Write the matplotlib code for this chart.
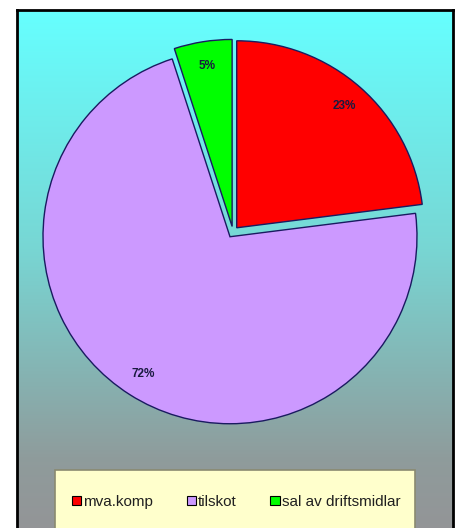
import numpy as np
import matplotlib
matplotlib.use("Agg")
import matplotlib.pyplot as plt
from matplotlib.patches import Rectangle, Patch
from matplotlib.colors import LinearSegmentedColormap

categories = ["mva.komp", "tilskot", "sal av driftsmidlar"]
values = [23, 72, 5]
colors = ["#FF0000", "#CC99FF", "#00FF00"]

W, H = 460, 528
fig = plt.figure(figsize=(W / 100, H / 100), dpi=100)
fig.patch.set_facecolor("white")

def fx(px):
    return px / W

def fy(py):
    return 1 - py / H

# background gradient panel
left, right, top = 17, 453, 10
bg = fig.add_axes([fx(left), -0.02, fx(right - left), fy(top) + 0.02])
grad = np.linspace(0, 1, 256).reshape(-1, 1)
cmap = LinearSegmentedColormap.from_list(
    "bg", [(0.0, (0.40, 1.0, 1.0)), (0.45, (0.47, 0.84, 0.83)),
           (0.85, (0.56, 0.61, 0.61)), (1.0, (0.58, 0.58, 0.59))])
bg.imshow(grad, aspect="auto", cmap=cmap, extent=[0, 1, 0, 1], origin="upper")
bg.set_xlim(0, 1)
bg.set_ylim(0, 1)
bg.set_xticks([])
bg.set_yticks([])
for s in bg.spines.values():
    s.set_linewidth(2)
    s.set_color("black")

# pie
cx, cy, R = 233, 232, 187
lim = 1.1
ax = fig.add_axes([fx(cx - R * lim), fy(cy + R * lim), fx(2 * R * lim), (2 * R * lim) / H])
ax.set_facecolor("none")
wedges, texts, autotexts = ax.pie(
    values, colors=colors, startangle=90, counterclock=False,
    explode=[0.03, 0.03, 0.03], autopct="%1.0f%%", pctdistance=0.87,
    wedgeprops=dict(edgecolor="#1a1a60", linewidth=1.0),
    textprops=dict(fontsize=8.5, color="#1a1a40", fontfamily="Liberation Sans", fontweight="bold"),
)
ax.set_xlim(-lim, lim)
ax.set_ylim(-lim, lim)
ax.set_aspect("equal")
ax.axis("off")

# legend box
lx0, lx1, ly0 = 55, 415, 470
fig.patches.append(Rectangle((fx(lx0), -0.05), fx(lx1 - lx0), fy(ly0) + 0.05,
                             transform=fig.transFigure, facecolor="#FFFFCC",
                             edgecolor="#8a8a70", linewidth=1.2, zorder=3))
handles = [Patch(facecolor=c, edgecolor="black", linewidth=0.8) for c in colors]
leg = fig.legend(handles, categories, loc="center", bbox_to_anchor=(fx(236), fy(502)),
                 ncol=3, frameon=False, handlelength=0.6, handleheight=0.6,
                 handletextpad=0.15, columnspacing=2.2,
                 prop=dict(family="Liberation Sans", size=11))
for t in leg.get_texts():
    t.set_color("#202020")
leg.set_zorder(4)

fig.savefig("out.png", dpi=100)
